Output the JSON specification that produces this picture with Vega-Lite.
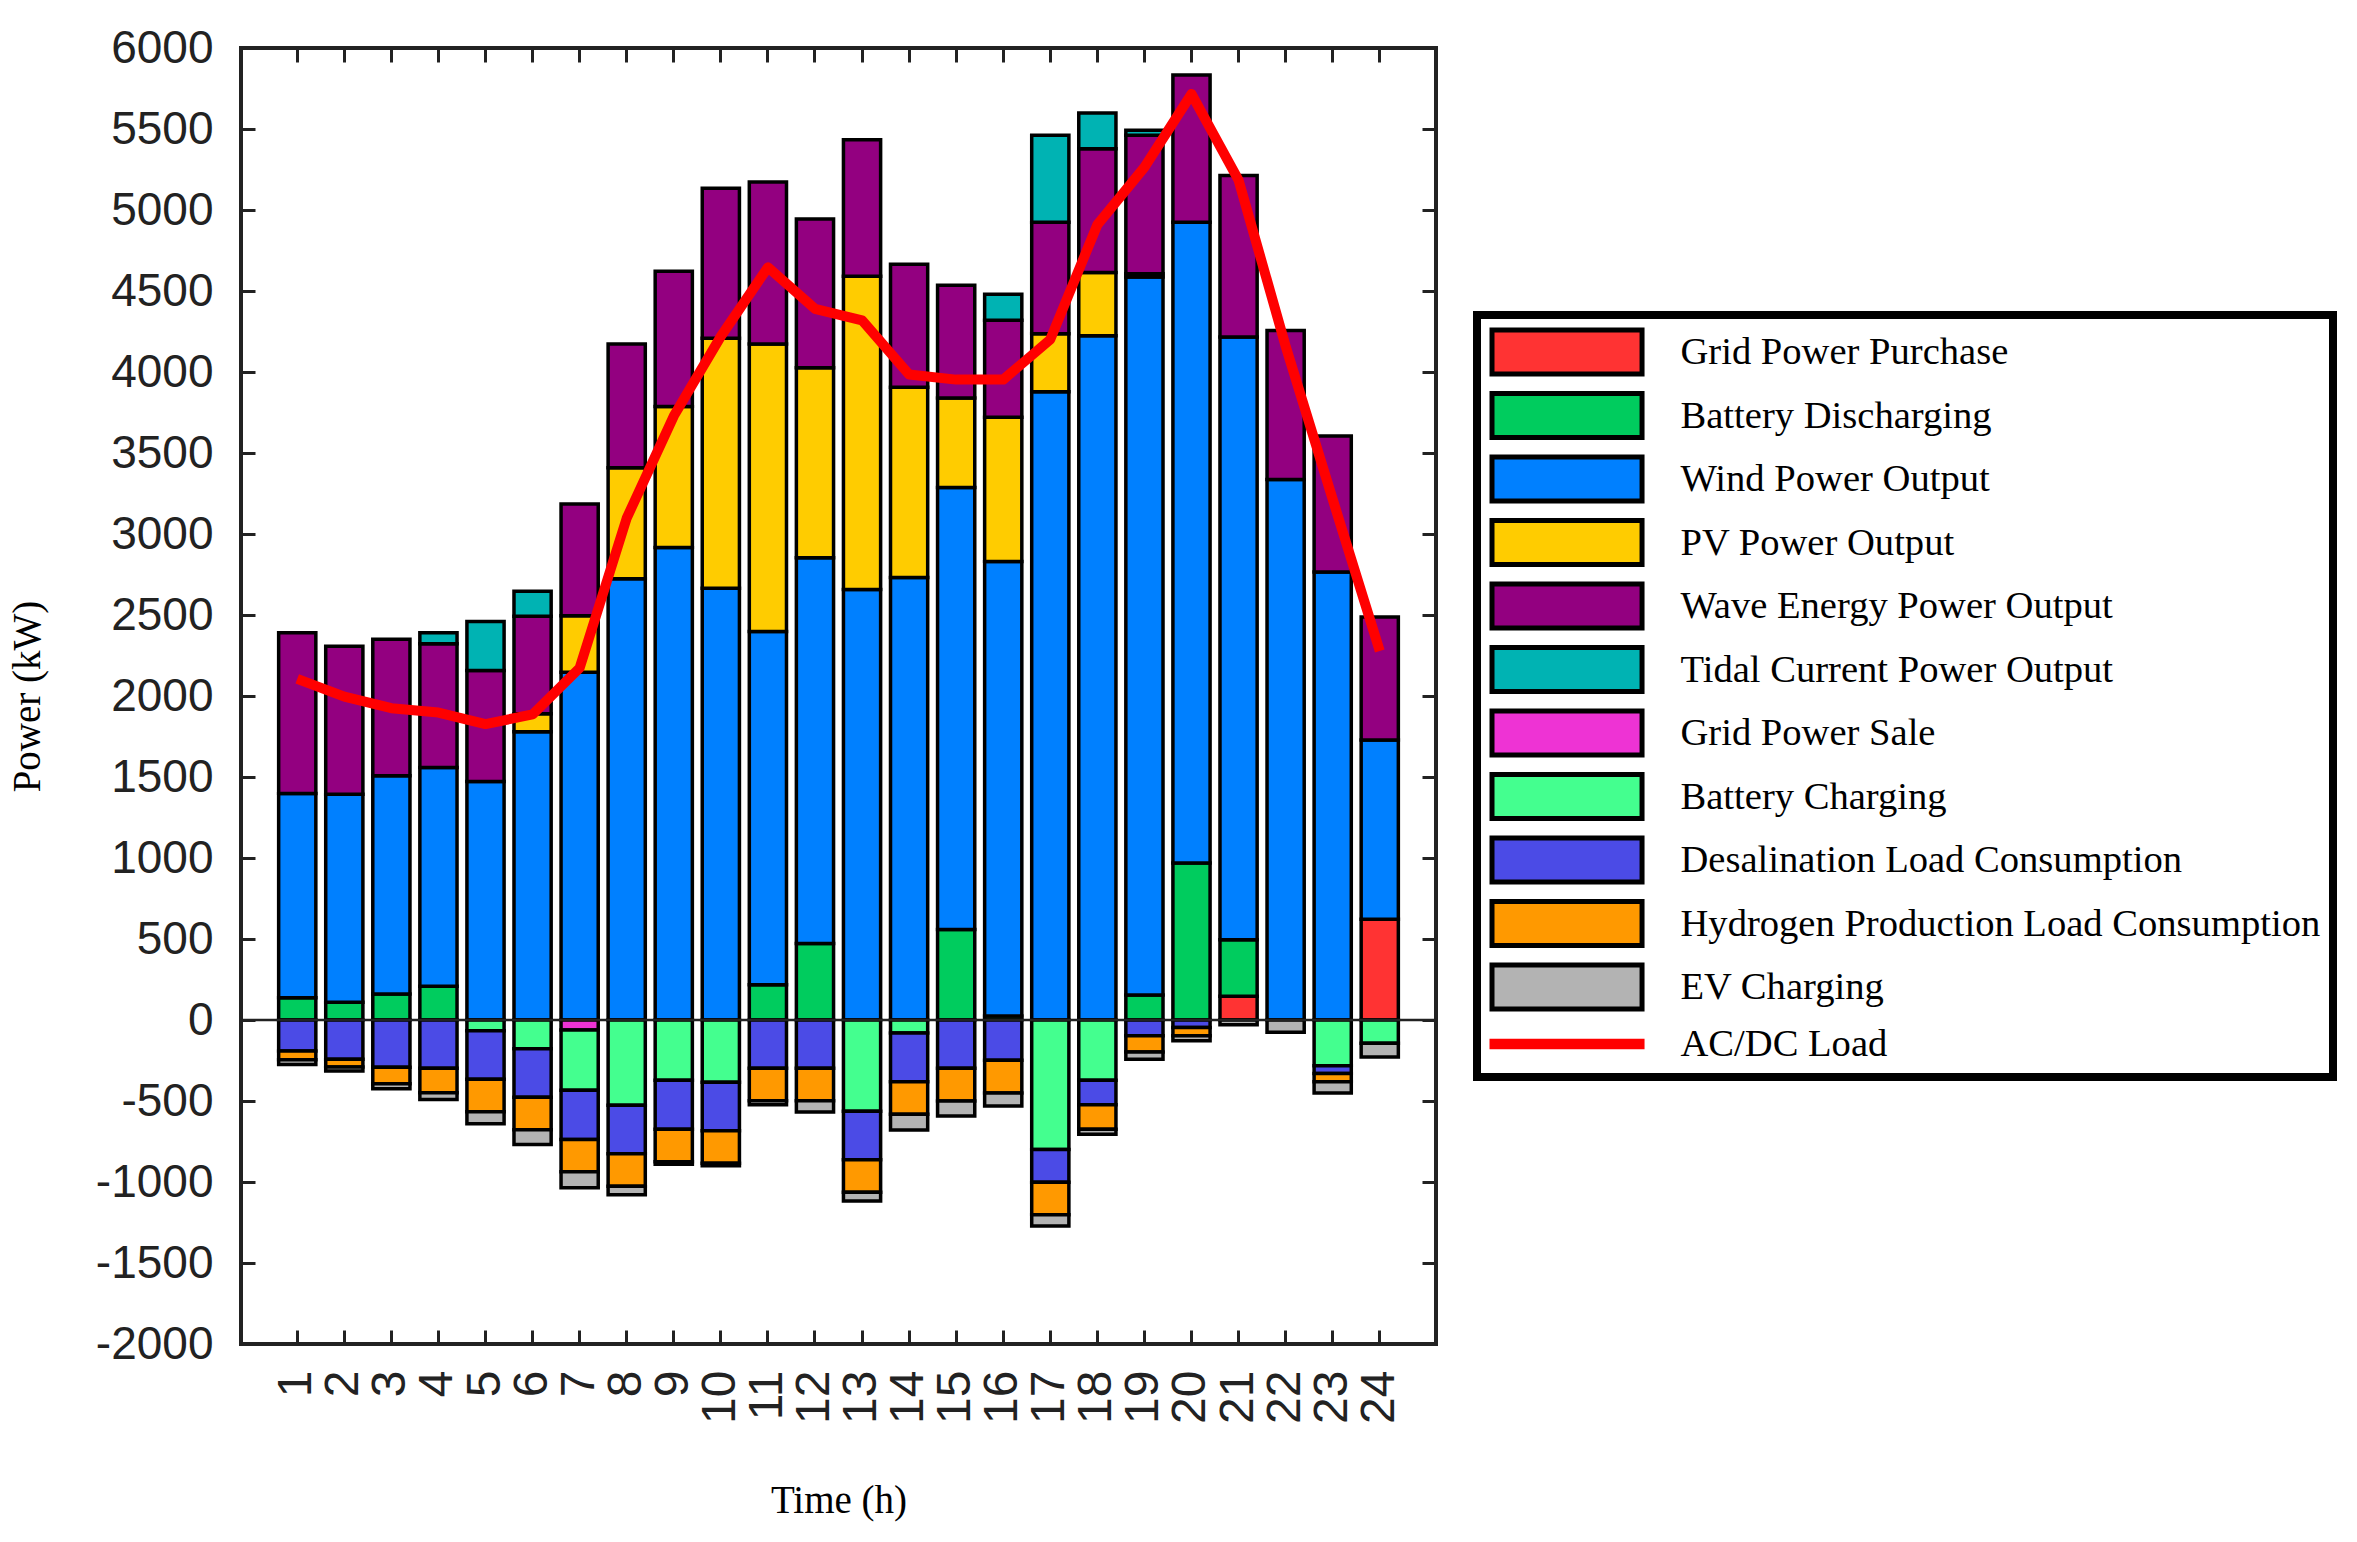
{
  "$schema": "https://vega.github.io/schema/vega-lite/v6.json",
  "width": 1195,
  "height": 1296,
  "autosize": "none",
  "padding": {"left": 241, "top": 48, "right": 921, "bottom": 198},
  "background": "white",
  "datasets": {
    "bars": [
      {"hour": 1, "series": "Battery Discharging", "value": 138},
      {"hour": 1, "series": "Wind Power Output", "value": 1260},
      {"hour": 1, "series": "Wave Energy Power Output", "value": 992},
      {"hour": 1, "series": "Desalination Load Consumption", "value": -191},
      {"hour": 1, "series": "Hydrogen Production Load Consumption", "value": -54},
      {"hour": 1, "series": "EV Charging", "value": -29},
      {"hour": 2, "series": "Battery Discharging", "value": 110},
      {"hour": 2, "series": "Wind Power Output", "value": 1284},
      {"hour": 2, "series": "Wave Energy Power Output", "value": 913},
      {"hour": 2, "series": "Desalination Load Consumption", "value": -243},
      {"hour": 2, "series": "Hydrogen Production Load Consumption", "value": -47},
      {"hour": 2, "series": "EV Charging", "value": -25},
      {"hour": 3, "series": "Battery Discharging", "value": 161},
      {"hour": 3, "series": "Wind Power Output", "value": 1347},
      {"hour": 3, "series": "Wave Energy Power Output", "value": 842},
      {"hour": 3, "series": "Desalination Load Consumption", "value": -292},
      {"hour": 3, "series": "Hydrogen Production Load Consumption", "value": -101},
      {"hour": 3, "series": "EV Charging", "value": -31},
      {"hour": 4, "series": "Battery Discharging", "value": 209},
      {"hour": 4, "series": "Wind Power Output", "value": 1350},
      {"hour": 4, "series": "Wave Energy Power Output", "value": 764},
      {"hour": 4, "series": "Tidal Current Power Output", "value": 67},
      {"hour": 4, "series": "Desalination Load Consumption", "value": -298},
      {"hour": 4, "series": "Hydrogen Production Load Consumption", "value": -151},
      {"hour": 4, "series": "EV Charging", "value": -41},
      {"hour": 5, "series": "Wind Power Output", "value": 1472},
      {"hour": 5, "series": "Wave Energy Power Output", "value": 685},
      {"hour": 5, "series": "Tidal Current Power Output", "value": 303},
      {"hour": 5, "series": "Battery Charging", "value": -66},
      {"hour": 5, "series": "Desalination Load Consumption", "value": -300},
      {"hour": 5, "series": "Hydrogen Production Load Consumption", "value": -200},
      {"hour": 5, "series": "EV Charging", "value": -74},
      {"hour": 6, "series": "Wind Power Output", "value": 1780},
      {"hour": 6, "series": "PV Power Output", "value": 110},
      {"hour": 6, "series": "Wave Energy Power Output", "value": 602},
      {"hour": 6, "series": "Tidal Current Power Output", "value": 154},
      {"hour": 6, "series": "Battery Charging", "value": -177},
      {"hour": 6, "series": "Desalination Load Consumption", "value": -300},
      {"hour": 6, "series": "Hydrogen Production Load Consumption", "value": -200},
      {"hour": 6, "series": "EV Charging", "value": -91},
      {"hour": 7, "series": "Wind Power Output", "value": 2146},
      {"hour": 7, "series": "PV Power Output", "value": 350},
      {"hour": 7, "series": "Wave Energy Power Output", "value": 689},
      {"hour": 7, "series": "Grid Power Sale", "value": -62},
      {"hour": 7, "series": "Battery Charging", "value": -372},
      {"hour": 7, "series": "Desalination Load Consumption", "value": -303},
      {"hour": 7, "series": "Hydrogen Production Load Consumption", "value": -199},
      {"hour": 7, "series": "EV Charging", "value": -99},
      {"hour": 8, "series": "Wind Power Output", "value": 2724},
      {"hour": 8, "series": "PV Power Output", "value": 685},
      {"hour": 8, "series": "Wave Energy Power Output", "value": 764},
      {"hour": 8, "series": "Battery Charging", "value": -527},
      {"hour": 8, "series": "Desalination Load Consumption", "value": -298},
      {"hour": 8, "series": "Hydrogen Production Load Consumption", "value": -202},
      {"hour": 8, "series": "EV Charging", "value": -51},
      {"hour": 9, "series": "Wind Power Output", "value": 2917},
      {"hour": 9, "series": "PV Power Output", "value": 870},
      {"hour": 9, "series": "Wave Energy Power Output", "value": 835},
      {"hour": 9, "series": "Battery Charging", "value": -372},
      {"hour": 9, "series": "Desalination Load Consumption", "value": -303},
      {"hour": 9, "series": "Hydrogen Production Load Consumption", "value": -200},
      {"hour": 9, "series": "EV Charging", "value": -15},
      {"hour": 10, "series": "Wind Power Output", "value": 2665},
      {"hour": 10, "series": "PV Power Output", "value": 1544},
      {"hour": 10, "series": "Wave Energy Power Output", "value": 925},
      {"hour": 10, "series": "Battery Charging", "value": -385},
      {"hour": 10, "series": "Desalination Load Consumption", "value": -298},
      {"hour": 10, "series": "Hydrogen Production Load Consumption", "value": -202},
      {"hour": 10, "series": "EV Charging", "value": -15},
      {"hour": 11, "series": "Battery Discharging", "value": 217},
      {"hour": 11, "series": "Wind Power Output", "value": 2181},
      {"hour": 11, "series": "PV Power Output", "value": 1775},
      {"hour": 11, "series": "Wave Energy Power Output", "value": 1000},
      {"hour": 11, "series": "Desalination Load Consumption", "value": -298},
      {"hour": 11, "series": "Hydrogen Production Load Consumption", "value": -200},
      {"hour": 11, "series": "EV Charging", "value": -25},
      {"hour": 12, "series": "Battery Discharging", "value": 472},
      {"hour": 12, "series": "Wind Power Output", "value": 2382},
      {"hour": 12, "series": "PV Power Output", "value": 1173},
      {"hour": 12, "series": "Wave Energy Power Output", "value": 918},
      {"hour": 12, "series": "Desalination Load Consumption", "value": -298},
      {"hour": 12, "series": "Hydrogen Production Load Consumption", "value": -200},
      {"hour": 12, "series": "EV Charging", "value": -70},
      {"hour": 13, "series": "Wind Power Output", "value": 2657},
      {"hour": 13, "series": "PV Power Output", "value": 1934},
      {"hour": 13, "series": "Wave Energy Power Output", "value": 842},
      {"hour": 13, "series": "Battery Charging", "value": -564},
      {"hour": 13, "series": "Desalination Load Consumption", "value": -298},
      {"hour": 13, "series": "Hydrogen Production Load Consumption", "value": -202},
      {"hour": 13, "series": "EV Charging", "value": -53},
      {"hour": 14, "series": "Wind Power Output", "value": 2732},
      {"hour": 14, "series": "PV Power Output", "value": 1174},
      {"hour": 14, "series": "Wave Energy Power Output", "value": 759},
      {"hour": 14, "series": "Battery Charging", "value": -80},
      {"hour": 14, "series": "Desalination Load Consumption", "value": -301},
      {"hour": 14, "series": "Hydrogen Production Load Consumption", "value": -201},
      {"hour": 14, "series": "EV Charging", "value": -97},
      {"hour": 15, "series": "Battery Discharging", "value": 559},
      {"hour": 15, "series": "Wind Power Output", "value": 2728},
      {"hour": 15, "series": "PV Power Output", "value": 552},
      {"hour": 15, "series": "Wave Energy Power Output", "value": 696},
      {"hour": 15, "series": "Desalination Load Consumption", "value": -298},
      {"hour": 15, "series": "Hydrogen Production Load Consumption", "value": -202},
      {"hour": 15, "series": "EV Charging", "value": -93},
      {"hour": 16, "series": "Battery Discharging", "value": 24},
      {"hour": 16, "series": "Wind Power Output", "value": 2807},
      {"hour": 16, "series": "PV Power Output", "value": 889},
      {"hour": 16, "series": "Wave Energy Power Output", "value": 599},
      {"hour": 16, "series": "Tidal Current Power Output", "value": 161},
      {"hour": 16, "series": "Desalination Load Consumption", "value": -249},
      {"hour": 16, "series": "Hydrogen Production Load Consumption", "value": -202},
      {"hour": 16, "series": "EV Charging", "value": -80},
      {"hour": 17, "series": "Wind Power Output", "value": 3878},
      {"hour": 17, "series": "PV Power Output", "value": 358},
      {"hour": 17, "series": "Wave Energy Power Output", "value": 689},
      {"hour": 17, "series": "Tidal Current Power Output", "value": 536},
      {"hour": 17, "series": "Battery Charging", "value": -800},
      {"hour": 17, "series": "Desalination Load Consumption", "value": -202},
      {"hour": 17, "series": "Hydrogen Production Load Consumption", "value": -200},
      {"hour": 17, "series": "EV Charging", "value": -70},
      {"hour": 18, "series": "Wind Power Output", "value": 4224},
      {"hour": 18, "series": "PV Power Output", "value": 390},
      {"hour": 18, "series": "Wave Energy Power Output", "value": 764},
      {"hour": 18, "series": "Tidal Current Power Output", "value": 220},
      {"hour": 18, "series": "Battery Charging", "value": -372},
      {"hour": 18, "series": "Desalination Load Consumption", "value": -151},
      {"hour": 18, "series": "Hydrogen Production Load Consumption", "value": -152},
      {"hour": 18, "series": "EV Charging", "value": -31},
      {"hour": 19, "series": "Battery Discharging", "value": 154},
      {"hour": 19, "series": "Wind Power Output", "value": 4433},
      {"hour": 19, "series": "PV Power Output", "value": 19},
      {"hour": 19, "series": "Wave Energy Power Output", "value": 855},
      {"hour": 19, "series": "Tidal Current Power Output", "value": 31},
      {"hour": 19, "series": "Desalination Load Consumption", "value": -97},
      {"hour": 19, "series": "Hydrogen Production Load Consumption", "value": -101},
      {"hour": 19, "series": "EV Charging", "value": -45},
      {"hour": 20, "series": "Battery Discharging", "value": 969},
      {"hour": 20, "series": "Wind Power Output", "value": 3956},
      {"hour": 20, "series": "Wave Energy Power Output", "value": 909},
      {"hour": 20, "series": "Desalination Load Consumption", "value": -47},
      {"hour": 20, "series": "Hydrogen Production Load Consumption", "value": -50},
      {"hour": 20, "series": "EV Charging", "value": -31},
      {"hour": 21, "series": "Grid Power Purchase", "value": 146},
      {"hour": 21, "series": "Battery Discharging", "value": 350},
      {"hour": 21, "series": "Wind Power Output", "value": 3720},
      {"hour": 21, "series": "Wave Energy Power Output", "value": 997},
      {"hour": 21, "series": "EV Charging", "value": -30},
      {"hour": 22, "series": "Wind Power Output", "value": 3337},
      {"hour": 22, "series": "Wave Energy Power Output", "value": 919},
      {"hour": 22, "series": "EV Charging", "value": -75},
      {"hour": 23, "series": "Wind Power Output", "value": 2765},
      {"hour": 23, "series": "Wave Energy Power Output", "value": 840},
      {"hour": 23, "series": "Battery Charging", "value": -282},
      {"hour": 23, "series": "Desalination Load Consumption", "value": -49},
      {"hour": 23, "series": "Hydrogen Production Load Consumption", "value": -50},
      {"hour": 23, "series": "EV Charging", "value": -70},
      {"hour": 24, "series": "Grid Power Purchase", "value": 622},
      {"hour": 24, "series": "Wind Power Output", "value": 1106},
      {"hour": 24, "series": "Wave Energy Power Output", "value": 760},
      {"hour": 24, "series": "Battery Charging", "value": -144},
      {"hour": 24, "series": "EV Charging", "value": -85}
    ],
    "load": [
      {"hour": 1, "load": 2106}, {"hour": 2, "load": 1996}, {"hour": 3, "load": 1925},
      {"hour": 4, "load": 1898}, {"hour": 5, "load": 1827}, {"hour": 6, "load": 1886},
      {"hour": 7, "load": 2173}, {"hour": 8, "load": 3098}, {"hour": 9, "load": 3728},
      {"hour": 10, "load": 4220}, {"hour": 11, "load": 4646}, {"hour": 12, "load": 4390},
      {"hour": 13, "load": 4319}, {"hour": 14, "load": 3984}, {"hour": 15, "load": 3953},
      {"hour": 16, "load": 3953}, {"hour": 17, "load": 4201}, {"hour": 18, "load": 4909},
      {"hour": 19, "load": 5264}, {"hour": 20, "load": 5716}, {"hour": 21, "load": 5185},
      {"hour": 22, "load": 4160}, {"hour": 23, "load": 3214}, {"hour": 24, "load": 2278}
    ]
  },
  "layer": [
    {
      "data": {"name": "bars"},
      "transform": [
        {"calculate": "indexof(['Grid Power Purchase','Battery Discharging','Wind Power Output','PV Power Output','Wave Energy Power Output','Tidal Current Power Output','Grid Power Sale','Battery Charging','Desalination Load Consumption','Hydrogen Production Load Consumption','EV Charging'], datum.series)", "as": "rank"}
      ],
      "mark": {"type": "bar", "stroke": "black", "strokeWidth": 3.5},
      "encoding": {
        "x": {
          "field": "hour", "type": "ordinal",
          "scale": {"paddingInner": 0.21, "paddingOuter": 0.8},
          "axis": {
            "orient": "bottom", "title": "Time (h)", "labelAngle": -90,
            "labelFontSize": 48, "labelPadding": 40,
            "titlePadding": 58
          }
        },
        "y": {
          "field": "value", "type": "quantitative", "stack": "zero",
          "scale": {"domain": [-2000, 6000], "nice": false},
          "axis": {
            "orient": "left", "title": "Power (kW)",
            "values": [-2000, -1500, -1000, -500, 0, 500, 1000, 1500, 2000, 2500, 3000, 3500, 4000, 4500, 5000, 5500, 6000],
            "labelExpr": "'' + datum.value", "labelFontSize": 46, "labelPadding": 42,
            "titlePadding": 48
          }
        },
        "color": {
          "field": "series", "type": "nominal",
          "scale": {
            "domain": ["Grid Power Purchase", "Battery Discharging", "Wind Power Output", "PV Power Output", "Wave Energy Power Output", "Tidal Current Power Output", "Grid Power Sale", "Battery Charging", "Desalination Load Consumption", "Hydrogen Production Load Consumption", "EV Charging", "AC/DC Load"],
            "range": ["#ff3333", "#00cc5e", "#0080ff", "#ffcc00", "#930080", "#00b3b3", "#ee33d4", "#44ff8f", "#4b4be6", "#ff9900", "#b3b3b3", "#ff0000"]
          },
          "legend": {
            "title": null, "orient": "none", "legendX": 1236, "legendY": 267,
            "columns": 1, "direction": "vertical",
            "symbolSize": 1936, "symbolStrokeWidth": 5, "symbolStrokeColor": "black",
            "labelFont": "Liberation Serif", "labelFontSize": 38.6, "labelColor": "black",
            "labelOffset": 142, "labelLimit": 1000, "rowPadding": -1.5,
            "padding": 12.5, "strokeColor": "black",
            "encode": {
              "legend": {
                "update": {"strokeWidth": {"value": 8}}
              },
              "symbols": {
                "update": {
                  "shape": {"signal": "datum.value === 'AC/DC Load' ? 'M-1,-0.12H5.82V0.12H-1Z' : 'M-1,-1H5.82V1H-1Z'"},
                  "stroke": {"signal": "datum.value === 'AC/DC Load' ? '#ff0000' : 'black'"},
                  "fill": {"scale": "color", "field": "value"},
                  "opacity": {"value": 1},
                  "fillOpacity": {"value": 1}
                }
              }
            }
          }
        },
        "order": {"field": "rank", "type": "quantitative", "sort": "ascending"}
      }
    },
    {
      "data": {"values": [{}]},
      "mark": {"type": "rule", "color": "#222222", "strokeWidth": 2.5},
      "encoding": {"y": {"datum": 0, "type": "quantitative", "axis": null}}
    },
    {
      "data": {"name": "load"},
      "mark": {"type": "line", "color": "#ff0000", "strokeWidth": 10, "strokeJoin": "round"},
      "encoding": {
        "x": {
          "field": "hour", "type": "ordinal",
          "axis": {"orient": "top", "title": null, "labels": false}
        },
        "y": {
          "field": "load", "type": "quantitative",
          "scale": {"domain": [-2000, 6000], "nice": false},
          "axis": {
            "orient": "right", "title": null, "labels": false,
            "values": [-2000, -1500, -1000, -500, 0, 500, 1000, 1500, 2000, 2500, 3000, 3500, 4000, 4500, 5000, 5500, 6000]
          }
        }
      }
    }
  ],
  "resolve": {"axis": {"x": "independent", "y": "independent"}},
  "config": {
    "view": {"stroke": "#222222", "strokeWidth": 4},
    "axis": {
      "grid": false, "domain": false,
      "ticks": true, "tickSize": -14, "tickWidth": 3, "tickColor": "#222222",
      "labelFont": "Liberation Sans", "labelColor": "#222222",
      "titleFont": "Liberation Serif", "titleFontSize": 39, "titleFontWeight": "normal", "titleColor": "black"
    }
  }
}
